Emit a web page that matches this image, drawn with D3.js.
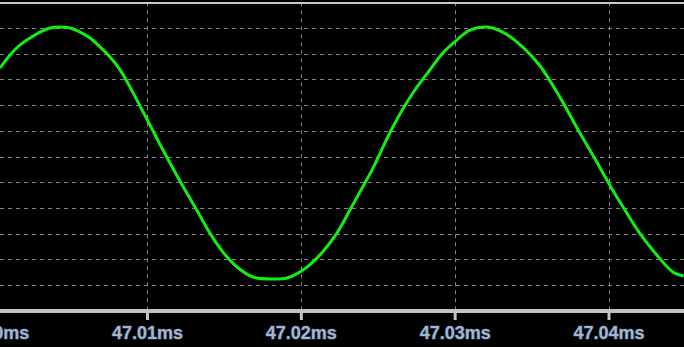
<!DOCTYPE html>
<html>
<head>
<meta charset="utf-8">
<script src="https://cdnjs.cloudflare.com/ajax/libs/d3/7.8.5/d3.min.js"></script>
<style>
    body { margin: 0; background: #000; }
    svg { display: block; }
</style>
</head>
<body>
<div id="scope"></div>
<script>
// time of each sample (ms)
var times = [
    47.00045, 47.00110, 47.00175, 47.00240, 47.00305, 47.00370, 47.00435, 47.00500,
    47.00565, 47.00630, 47.00695, 47.00760, 47.00825, 47.00890, 47.00955, 47.01019,
    47.01104, 47.01214, 47.01325, 47.01409, 47.01494, 47.01585, 47.01689, 47.01819,
    47.01910, 47.02014, 47.02124, 47.02235, 47.02319, 47.02384, 47.02469, 47.02598,
    47.02728, 47.02839, 47.02923, 47.03014, 47.03099, 47.03209, 47.03313, 47.03443,
    47.03554, 47.03684, 47.03814, 47.03924, 47.04008, 47.04119, 47.04203, 47.04314,
    47.04418, 47.04489
];

// signal value at each sample (grid divisions)
var values = [
    3.44, 3.95, 4.34, 4.61, 4.84, 5.00, 5.04, 5.00,
    4.84, 4.61, 4.26, 3.87, 3.37, 2.70, 1.96, 1.23,
    0.25, -0.95, -2.10, -2.98, -3.72, -4.30, -4.69, -4.77,
    -4.73, -4.42, -3.83, -2.98, -2.08, -1.38, -0.45, 1.15,
    2.47, 3.37, 4.03, 4.53, 4.92, 5.04, 4.84, 4.26,
    3.53, 2.31, 0.91, -0.21, -1.11, -2.20, -2.98, -3.83,
    -4.49, -4.65
];

var xTicks = [47.00, 47.01, 47.02, 47.03, 47.04];
var yGrid = [-5, -4, -3, -2, -1, 0, 1, 2, 3, 4, 5];

var width = 684, height = 347;

// 0.01ms is about 154px, 1 division is about 25.7px
var x = d3.scaleLinear()
    .domain([47.01, 47.04])
    .range([147, 608.5]);

var y = d3.scaleLinear()
    .domain([-6, 6])
    .range([310.7, 2.3]);

var svg = d3.select("#scope")
    .append("svg")
    .attr("width", width)
    .attr("height", height)
    .style("background", "#000");

// horizontal dashed grid
svg.append("g")
    .attr("class", "grid-y")
    .selectAll("line")
    .data(yGrid)
    .enter().append("line")
    .attr("x1", 0)
    .attr("x2", width)
    .attr("y1", function (d) { return Math.round(y(d)) + 0.5; })
    .attr("y2", function (d) { return Math.round(y(d)) + 0.5; })
    .style("stroke", "#858585")
    .style("stroke-width", 1)
    .style("stroke-dasharray", "4,4");

// vertical dashed grid
svg.append("g")
    .attr("class", "grid-x")
    .selectAll("line")
    .data(xTicks)
    .enter().append("line")
    .attr("x1", function (d) { return Math.round(x(d)) + 0.5; })
    .attr("x2", function (d) { return Math.round(x(d)) + 0.5; })
    .attr("y1", y(6))
    .attr("y2", y(-6))
    .style("stroke", "#858585")
    .style("stroke-width", 1)
    .style("stroke-dasharray", "4,4");

// top border
svg.append("line")
    .attr("x1", 0)
    .attr("x2", width)
    .attr("y1", 3)
    .attr("y2", 3)
    .style("stroke", "#c8c8c8")
    .style("stroke-width", 2);

// the trace
var samples = times.map(function (t, i) { return [t, values[i]]; });

var line = d3.line()
    .x(function (d) { return x(d[0]); })
    .y(function (d) { return y(d[1]); })
    .curve(d3.curveCatmullRom.alpha(0.5));

svg.append("path")
    .datum(samples)
    .attr("d", line)
    .style("fill", "none")
    .style("stroke", "#10f010")
    .style("stroke-width", 3)
    .style("stroke-linejoin", "round");

// time axis
var axis = d3.axisBottom(x)
    .tickValues(xTicks)
    .tickSize(9)
    .tickPadding(6)
    .tickFormat(function (d) { return d.toFixed(2) + "ms"; });

var gAxis = svg.append("g")
    .attr("class", "axis")
    .attr("transform", "translate(0," + 311 + ")")
    .call(axis);

gAxis.select(".domain").remove();
gAxis.insert("line", ":first-child")
    .attr("x1", 0)
    .attr("x2", width)
    .style("stroke", "#c4c4c4")
    .style("stroke-width", 4);

gAxis.selectAll(".tick line")
    .style("stroke", "#c4c4c4")
    .style("stroke-width", 3);

gAxis.selectAll(".tick text")
    .style("font-family", "'Liberation Sans', Arial, sans-serif")
    .style("font-weight", "bold")
    .style("font-size", "18px")
    .style("fill", "#a3b5cf")
    .style("stroke", "#2f4060")
    .style("stroke-width", 1.2)
    .style("paint-order", "stroke");
</script>
</body>
</html>
